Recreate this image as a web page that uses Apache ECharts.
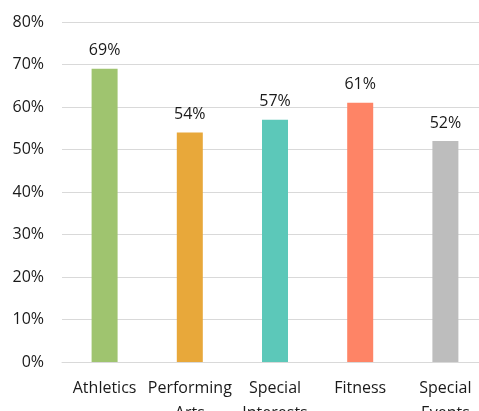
<!DOCTYPE html>
<html>
<head>
<meta charset="utf-8">
<script src="https://cdn.jsdelivr.net/npm/echarts@6/dist/echarts.min.js"></script>
<style>
  html, body { margin: 0; padding: 0; background: #fff; }
  #chart { width: 479px; height: 411px; }
</style>
</head>
<body>
<div id="chart"></div>
<script>
  const categories = ['Athletics', 'Performing\nArts', 'Special\nInterests', 'Fitness', 'Special\nEvents']
  const values = [69, 54, 57, 61, 52]
  const barColors = ['#9fc46f', '#e8a83a', '#5cc8b9', '#fe8466', '#bdbdbd']
  const yTicks = [0, 10, 20, 30, 40, 50, 60, 70, 80]

  const chart = echarts.init(document.getElementById('chart'))
  const font = '"Open Sans", sans-serif'
  const option = {
    animation: false,
    grid: { left: 62, right: -9, top: 22, bottom: 49, containLabel: false, outerBoundsMode: 'none' },
    xAxis: {
      type: 'category',
      data: categories,
      axisLine: { show: true, lineStyle: { color: '#d9d9d9', width: 1 } },
      axisTick: { show: false },
      axisLabel: {
        color: '#1a1a1a', fontFamily: font, fontSize: 16, margin: 14,
        lineHeight: 25, interval: 0
      }
    },
    yAxis: {
      type: 'value',
      min: yTicks[0],
      max: yTicks[yTicks.length - 1],
      interval: 10,
      axisLine: { show: false },
      axisTick: { show: false },
      splitLine: { lineStyle: { color: '#d9d9d9', width: 1 } },
      axisLabel: {
        color: '#1a1a1a', fontFamily: font, fontSize: 16, margin: 18,
        formatter: '{value}%'
      }
    },
    series: [{
      type: 'bar',
      barWidth: 26,
      data: values.map((v, i) => ({ value: v, itemStyle: { color: barColors[i] } })),
      label: {
        show: true, position: 'top', distance: 10,
        color: '#1a1a1a', fontFamily: font, fontSize: 16,
        formatter: '{c}%'
      }
    }]
  }
  chart.setOption(option)
</script>
</body>
</html>
